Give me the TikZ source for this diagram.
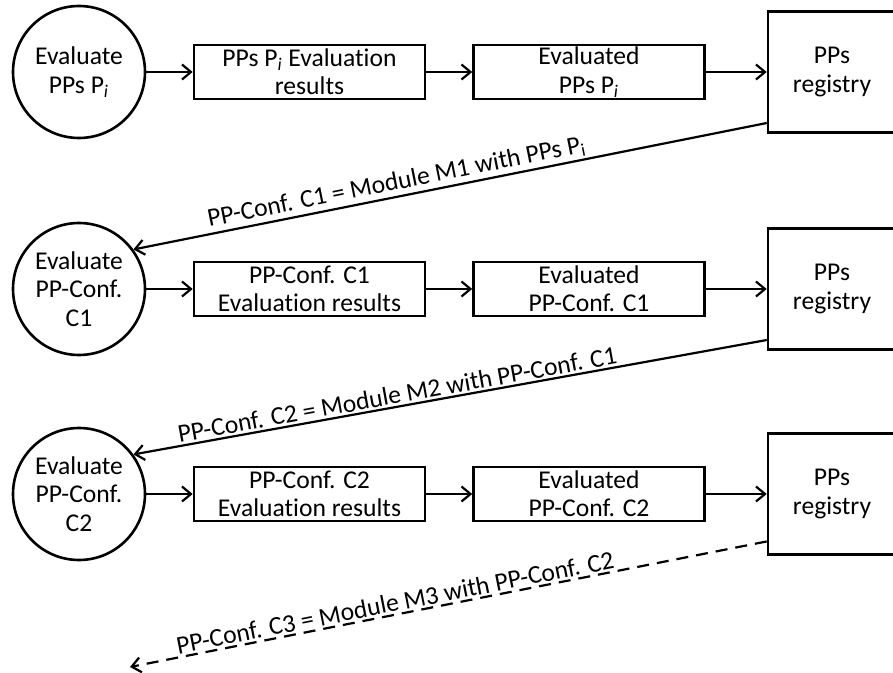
\documentclass[tikz,border=0pt]{standalone}
\usepackage{fontspec}
\setmainfont{Carlito}[Ligatures=NoCommon]
\usetikzlibrary{arrows.meta}

\begin{document}
\begin{tikzpicture}[x=0.5pt,y=-0.5pt,
  font=\fontsize{12.8}{14.2}\selectfont,
  evalnode/.style={draw,circle,line width=1.3pt,minimum size=66pt,inner sep=0pt,align=center},
  databox/.style={draw,rectangle,line width=1.3pt,minimum width=115.5pt,minimum height=27pt,inner sep=0pt,align=center},
  regbox/.style={draw,rectangle,line width=1.3pt,minimum width=64pt,minimum height=60.5pt,align=center},
  arr/.style={line width=1.1pt,-{Straight Barb[length=4.5pt,width=7.5pt]}}]
  \clip (0,0) rectangle (893,673);
  \fill[white] (0,0) rectangle (893,673);

  % row 1
  \node[evalnode] (eval1) at (79,72) {Evaluate\\PPs P\textsubscript{\textit{i}}};
  \node[databox] (res1) at (309.5,72) {PPs P\textsubscript{\textit{i}} Evaluation\\results};
  \node[databox] (done1) at (589,72) {Evaluated\\PPs P\textsubscript{\textit{i}}};
  \node[regbox] (reg1) at (832,72) {PPs\\registry};

  % row 2
  \node[evalnode] (eval2) at (79,289) {Evaluate\\PP-Conf.\\C1};
  \node[databox] (res2) at (309.5,289) {PP-Conf. C1\\Evaluation results};
  \node[databox] (done2) at (589,289) {Evaluated\\PP-Conf. C1};
  \node[regbox] (reg2) at (832,289) {PPs\\registry};

  % row 3
  \node[evalnode] (eval3) at (79,494) {Evaluate\\PP-Conf.\\C2};
  \node[databox] (res3) at (309.5,494) {PP-Conf. C2\\Evaluation results};
  \node[databox] (done3) at (589,494) {Evaluated\\PP-Conf. C2};
  \node[regbox] (reg3) at (832,494) {PPs\\registry};

  \coordinate (next) at (130,667);

  \foreach \r in {1,2,3} {
    \draw[arr] (eval\r) -- (res\r);
    \draw[arr] (res\r) -- (done\r);
    \draw[arr] (done\r) -- (reg\r);
  }

  \draw[arr] (reg1.218) -- node[pos=0.58,above,sloped,inner sep=1pt] {PP-Conf. C1 = Module M1 with PPs P\textsubscript{i}} (eval2.36);
  \draw[arr] (reg2.218) -- node[pos=0.58,above,sloped,inner sep=1pt] {PP-Conf. C2 = Module M2 with PP-Conf. C1} (eval3.36);
  \draw[arr,dash pattern=on 6pt off 4pt] (reg3.216) -- node[pos=0.58,above,sloped,inner sep=1pt] {PP-Conf. C3 = Module M3 with PP-Conf. C2} (next);

\end{tikzpicture}
\end{document}
